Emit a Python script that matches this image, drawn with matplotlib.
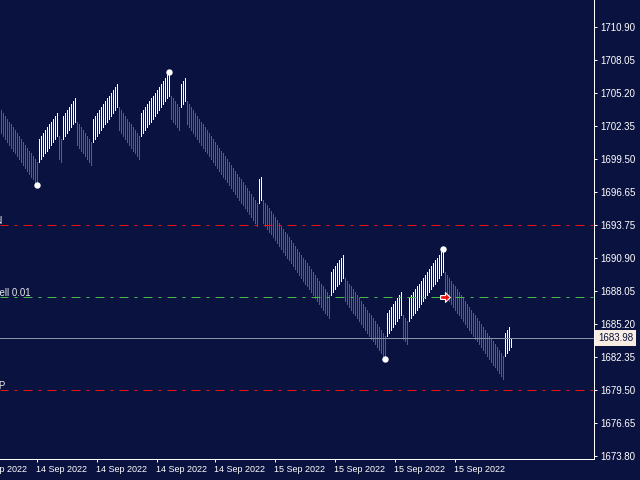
import matplotlib
matplotlib.use("Agg")
import matplotlib.pyplot as plt
from matplotlib.path import Path

plt.rcParams['font.family'] = ['Liberation Sans', 'DejaVu Sans']
plt.rcParams['lines.scale_dashes'] = False

# brick runs: -1 = down (blue), +1 = up (white)
run_dirs = [-1, 1, -1, 1, -1, 1, -1, 1, -1, 1, -1, 1, -1, 1, -1, 1, -1, 1, -1, 1]
run_lengths = [19, 10, 2, 7, 8, 13, 11, 15, 5, 3, 36, 2, 34, 7, 21, 8, 3, 18, 30, 4]
first_open = 1703.71
box_size = 0.25
bar_height = 2.0
last_price = 1683.98

# trade levels
sl_price = 1693.75
sell_price = 1687.53
tp_price = 1679.50
level_labels = ["sl", "Sell 0.01", "TP"]

# zigzag swing points (bar index) and entry arrow
zz_bars = [18, 84, 192, 221]
arrow_bar = 222

# axis labels
price_ticks = [1710.90, 1708.05, 1705.20, 1702.35, 1699.50, 1696.65, 1693.75,
               1690.90, 1688.05, 1685.20, 1682.35, 1679.50, 1676.65, 1673.80]
time_tick_bars = [-12, 18, 48, 78, 107, 137, 167, 197, 227]
time_tick_labels = ["14 Sep 2022"] * 5 + ["15 Sep 2022"] * 4

bg = '#0a1240'
up_color = '#ffffff'
down_color = '#1a6cd6'
px = 0.72  # one pixel in points at 100 dpi

# build bars from the runs
opens, closes, dirs = [], [], []
o = first_open
for d, n in zip(run_dirs, run_lengths):
    for k in range(n):
        if k > 0:
            o += d * box_size
        opens.append(o)
        closes.append(o + d * bar_height)
        dirs.append(d)
closes[-1] = last_price  # last bar still forming

xs = list(range(len(opens)))
lows = [min(a, b) for a, b in zip(opens, closes)]
highs = [max(a, b) for a, b in zip(opens, closes)]
cols = [up_color if d > 0 else down_color for d in dirs]

fig = plt.figure(figsize=(6.4, 4.8), dpi=100, facecolor=bg)
ax = fig.add_axes([0, 21 / 480, 594 / 640, 459 / 480], facecolor=bg)

ax.vlines(xs, lows, highs, colors=cols, linewidth=px, antialiased=False, zorder=2)

dash = (px, (9 * px, 6 * px, 3 * px, 6 * px))
ax.axhline(sl_price, color='#f01010', lw=px, linestyle=dash, zorder=3)
ax.axhline(sell_price, color='#44bb44', lw=px, linestyle=dash, zorder=3)
ax.axhline(tp_price, color='#f01010', lw=px, linestyle=dash, zorder=3)
ax.axhline(last_price, color='#8792a6', lw=px, zorder=3)

# zigzag points
zz_prices = [closes[i] for i in zz_bars]
ax.plot(zz_bars, zz_prices, 'o', color='white', ms=4.6, mew=0, zorder=5)

# entry arrow
arrow = Path([(-1, -0.4), (0, -0.4), (0, -1), (1, 0), (0, 1), (0, 0.4), (-1, 0.4), (-1, -0.4)],
             [1, 2, 2, 2, 2, 2, 2, 79])
ax.plot([arrow_bar], [sell_price], marker=arrow, color='#ee1111', mec='white',
        mew=0.8, ms=7, zorder=6)

ax.set_xlim(-0.5, 296.5)
ax.set_ylim(1673.55, 1713.22)

for s in ['left', 'top']:
    ax.spines[s].set_visible(False)
for s in ['right', 'bottom']:
    ax.spines[s].set_color('white')
    ax.spines[s].set_linewidth(px)

ax.yaxis.tick_right()
ax.set_yticks(price_ticks)
ax.set_yticklabels([f"{p:.2f}" for p in price_ticks])
ax.tick_params(axis='y', colors='white', length=3 * px, width=px, pad=3 * px, labelsize=7)
ax.set_xticks(time_tick_bars[1:])
ax.tick_params(axis='x', colors='white', length=3 * px, width=px, labelbottom=False)

for b, lab in zip(time_tick_bars, time_tick_labels):
    ax.text(b - 0.5, -10 / 459, lab, transform=ax.get_xaxis_transform(), ha='left',
            va='center', color='white', fontsize=6.5, clip_on=False)

# current price box
ax.text(1 + 4 / 594, last_price, f"{last_price:.2f}", transform=ax.get_yaxis_transform(),
        ha='left', va='center', color='#0a1240', fontsize=7, clip_on=False, zorder=10,
        bbox=dict(boxstyle='square,pad=0.32', fc='#f7ede2', ec='none'))

# clipped labels of the trade lines at the left edge
for lvl, lab, end_px in zip([sl_price, sell_price, tp_price], level_labels, [3, 31, 6]):
    ax.text(end_px / 594, lvl + 0.13, lab, transform=ax.get_yaxis_transform(), ha='right',
            va='baseline', color='#e8e8e8', fontsize=7, clip_on=False)

fig.savefig('out.png', dpi=100, facecolor=bg)
